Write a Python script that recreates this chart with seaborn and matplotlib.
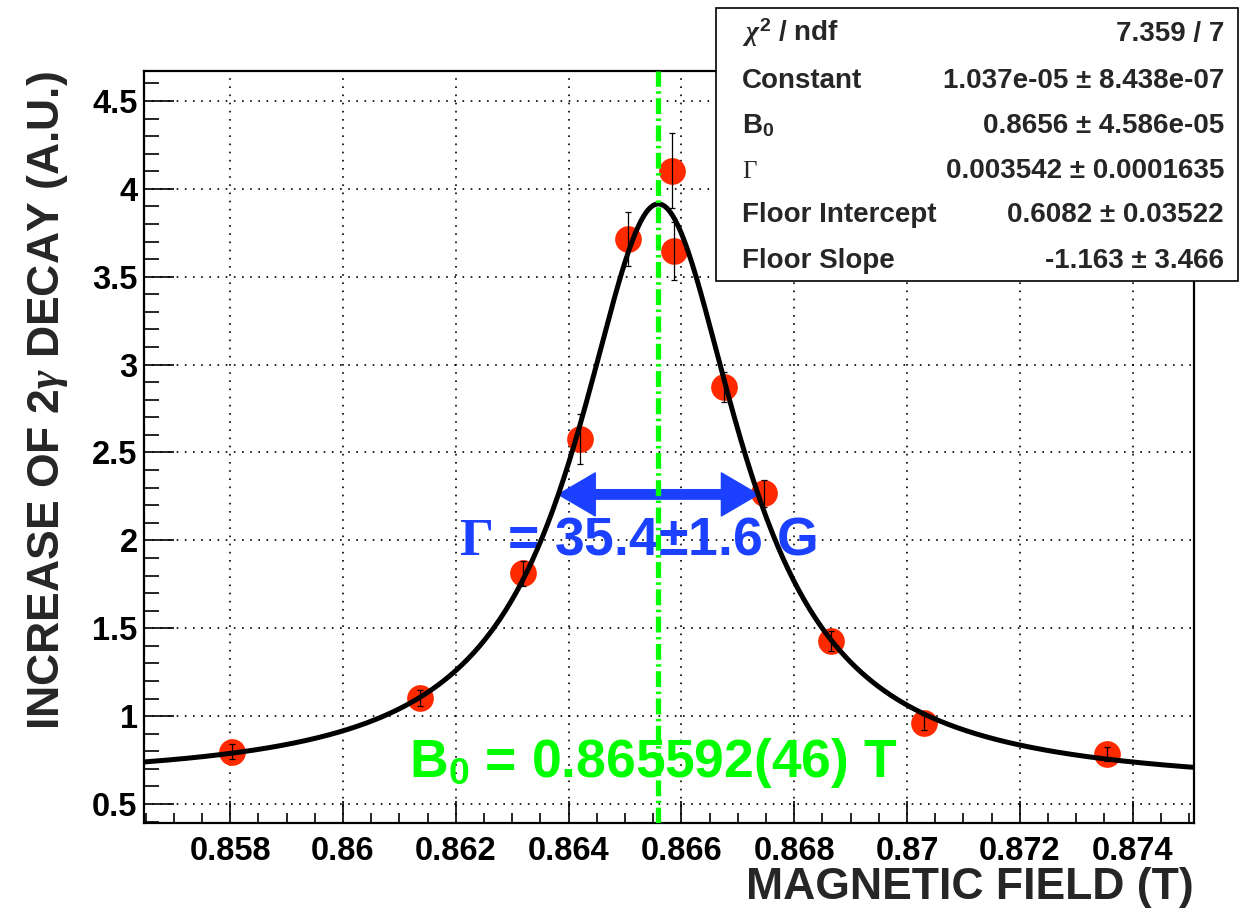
import numpy as np
import pandas as pd
import matplotlib
matplotlib.use("Agg")
import matplotlib.pyplot as plt
import seaborn as sns
from matplotlib.patches import Rectangle, FancyArrowPatch
from matplotlib.ticker import MultipleLocator, FuncFormatter

# Measured excess of 2-gamma decays versus magnetic field
field = [0.85804, 0.86137, 0.86319, 0.86421, 0.86506, 0.86584,
         0.86587, 0.86675, 0.86746, 0.86866, 0.87030, 0.87354]
signal = [0.798, 1.101, 1.813, 2.575, 3.715, 4.103,
          3.648, 2.874, 2.268, 1.429, 0.963, 0.783]
signal_err = [0.043, 0.045, 0.070, 0.142, 0.154, 0.213,
              0.165, 0.085, 0.076, 0.057, 0.043, 0.040]

# Lorentzian + linear floor fit result
fit_constant = 1.037e-05
fit_b0 = 0.865592
fit_gamma = 0.003542
floor_intercept = 0.6082
floor_slope = -1.163

stat_labels = [r"$\chi^\mathbf{2}$ / ndf", "Constant", r"B$_\mathbf{0}$", "",
               "Floor Intercept", "Floor Slope"]
stat_values = ["7.359 / 7", "1.037e-05 ± 8.438e-07", "0.8656 ± 4.586e-05",
               "0.003542 ± 0.0001635", "0.6082 ± 0.03522", "-1.163 ± 3.466"]

x_limits = (0.85648, 0.87509)
y_limits = (0.39, 4.671)

RED = "#ff2a00"
BLUE = "#1c40ff"
GREEN = "#00ff00"

sns.set_theme(style="white")
plt.rcParams.update({
    "font.family": ["Liberation Sans", "DejaVu Sans"],
    "font.weight": "bold",
    "mathtext.fontset": "custom",
    "mathtext.rm": "Liberation Serif",
    "mathtext.it": "Liberation Serif:italic",
    "mathtext.bf": "Liberation Sans:bold",
    "mathtext.sf": "Liberation Sans",
    "axes.edgecolor": "black",
    "axes.linewidth": 1.6,
    "xtick.color": "black",
    "ytick.color": "black",
})

fig = plt.figure(figsize=(12.4, 9.17), dpi=100)
fig.patch.set_facecolor("white")
ax = fig.add_axes([0.1165, 0.1022, 0.8464, 0.8204])
ax.set_facecolor("white")

def fit_curve(b):
    return (fit_constant / ((b - fit_b0) ** 2 + (fit_gamma / 2) ** 2)
            + floor_intercept + floor_slope * (b - fit_b0))

points = pd.DataFrame({"field": field, "signal": signal, "err": signal_err})

sns.scatterplot(data=points, x="field", y="signal", s=370, color=RED,
                linewidth=0, ax=ax, zorder=3, legend=False)
ax.errorbar(points["field"], points["signal"], yerr=points["err"], fmt="none",
            ecolor="black", elinewidth=0.9, capsize=2.3, capthick=0.9, zorder=4)

xs = np.linspace(x_limits[0], x_limits[1], 800)
curve = pd.DataFrame({"field": xs, "fit": fit_curve(xs)})
sns.lineplot(data=curve, x="field", y="fit", color="black", lw=3.6,
             ax=ax, zorder=7, sort=False, estimator=None)

# Full width at half maximum arrow
half_level = fit_constant / (fit_gamma / 2) ** 2 / 2 + floor_intercept
for tip in (fit_b0 - fit_gamma / 2, fit_b0 + fit_gamma / 2):
    ax.add_patch(FancyArrowPatch(
        (fit_b0, half_level), (tip, half_level),
        arrowstyle="simple,head_length=26.5,head_width=31,tail_width=6.8",
        mutation_scale=1, color=BLUE, shrinkA=0, shrinkB=0, zorder=5))

ax.text(0.86524, 1.917, r"$\Gamma$ = 35.4±1.6 G", color=BLUE, fontsize=38.5,
        fontweight="bold", ha="center", va="baseline", zorder=6)
ax.text(0.8655, 0.654, r"B$_\mathsf{0}$ = 0.865592(46) T", color=GREEN,
        fontsize=38.5, fontweight="bold", ha="center", va="baseline", zorder=6)

ax.axvline(fit_b0, color=GREEN, lw=3.8, ls=(0, (3.0, 0.85, 0.47, 0.85)), zorder=8)

ax.set_xlim(*x_limits)
ax.set_ylim(*y_limits)

ax.xaxis.set_major_locator(MultipleLocator(0.002))
ax.xaxis.set_minor_locator(MultipleLocator(0.0005))
ax.yaxis.set_major_locator(MultipleLocator(0.5))
ax.yaxis.set_minor_locator(MultipleLocator(0.1))
fmt = FuncFormatter(lambda v, p: f"{v:.4g}")
ax.xaxis.set_major_formatter(fmt)
ax.yaxis.set_major_formatter(fmt)

ax.tick_params(axis="both", which="both", direction="in", top=False,
               right=False, bottom=True, left=True, colors="black",
               labelsize=23.5, width=1.2)
ax.tick_params(axis="x", which="major", length=15.6, pad=9)
ax.tick_params(axis="x", which="minor", length=7.2)
ax.tick_params(axis="y", which="major", length=21.6, pad=5)
ax.tick_params(axis="y", which="minor", length=10.8)
for lab in ax.get_xticklabels() + ax.get_yticklabels():
    lab.set_fontweight("bold")

ax.grid(True, which="major", color="black", lw=1.2, ls=(0, (1, 3.9)))
ax.set_axisbelow(True)
for sp in ax.spines.values():
    sp.set_color("black")
    sp.set_linewidth(1.6)

ax.set_xlabel("MAGNETIC FIELD (T)", loc="right", fontsize=32,
              fontweight="bold", labelpad=0.5)
ax.set_ylabel(r"INCREASE OF 2$\gamma$ DECAY (A.U.)", loc="top", fontsize=32,
              fontweight="bold", labelpad=16)

# Fit statistics box
W, H = 1240.0, 917.0
box_l, box_r, box_t, box_b = 716, 1238, 8, 281
fig.add_artist(Rectangle((box_l / W, 1 - box_b / H), (box_r - box_l) / W,
                         (box_b - box_t) / H, transform=fig.transFigure,
                         facecolor="white", edgecolor="black", lw=1.2, zorder=10))
baselines = [41, 88, 133, 178, 222.5, 268]
for lab, val, yb in zip(stat_labels, stat_values, baselines):
    fig.text(742 / W, 1 - yb / H, lab, fontsize=20, fontweight="bold",
             ha="left", va="baseline", zorder=11)
    fig.text(1224 / W, 1 - yb / H, val, fontsize=20, fontweight="bold",
             ha="right", va="baseline", zorder=11)
fig.text(742 / W, 1 - 178 / H, "Γ", fontsize=18, family="Liberation Serif",
         fontweight="normal", ha="left", va="baseline", zorder=11)

fig.savefig("out.png", dpi=100, facecolor="white")
